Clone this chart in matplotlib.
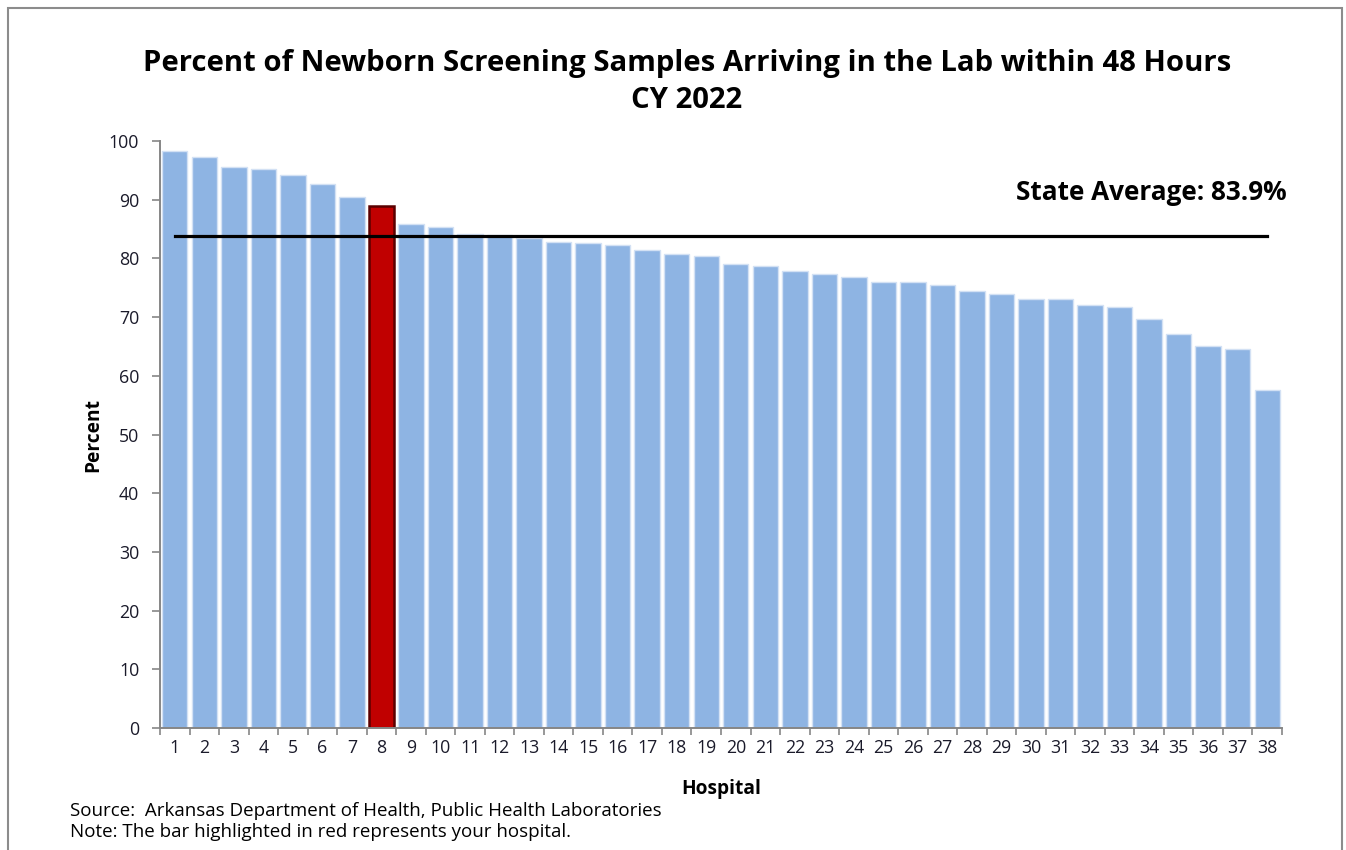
"""Newborn screening samples arriving within 48 hours, CY 2022."""
import matplotlib

matplotlib.use("Agg")
import matplotlib.pyplot as plt
from matplotlib.patches import Rectangle

hospitals = list(range(1, 39))
percent = [
    98.3, 97.2, 95.5, 95.3, 94.2, 92.7, 90.5, 89.0, 85.8, 85.3,
    84.1, 84.0, 83.5, 82.8, 82.7, 82.2, 81.5, 80.7, 80.4, 79.0,
    78.7, 77.9, 77.4, 76.9, 76.0, 75.9, 75.4, 74.5, 73.9, 73.1,
    73.0, 72.0, 71.7, 69.6, 67.2, 65.0, 64.5, 57.5,
]
your_hospital = 8
state_avg = 83.9
yticks = list(range(0, 101, 10))

plt.rcParams["font.family"] = ["Open Sans", "DejaVu Sans"]

fig = plt.figure(figsize=(13.46, 8.5), dpi=100)
ax = fig.add_axes([160 / 1346, 1 - 728 / 850, 1122 / 1346, 587 / 850])

colors = ["#C00000" if h == your_hospital else "#8EB4E3" for h in hospitals]
edges = ["#5A0000" if h == your_hospital else "#D3E1F4" for h in hospitals]
lws = [1.8 if h == your_hospital else 1.0 for h in hospitals]
ax.bar(hospitals, percent, width=0.86, color=colors, edgecolor=edges, linewidth=lws, zorder=2)

# state average line across the bar centres
ax.plot([hospitals[0], hospitals[-1]], [state_avg, state_avg], color="black", lw=2.3, zorder=3)
ax.text(38.65, 89.0, f"State Average: {state_avg}%", ha="right", va="bottom",
        fontsize=18.8, fontweight="bold", color="black")

ax.set_xlim(0.5, 38.5)
ax.set_ylim(0, 100)
ax.set_yticks(yticks)
ax.set_yticklabels([str(v) for v in yticks])
ax.set_xticks([h - 0.5 for h in hospitals] + [38.5])
ax.set_xticklabels([])
ax.set_xticks(hospitals, minor=True)
ax.set_xticklabels([str(h) for h in hospitals], minor=True)
ax.tick_params(axis="x", which="major", length=5, width=1.2, color="#868686", direction="out")
ax.tick_params(axis="x", which="minor", length=0, pad=8, labelsize=12.8, labelcolor="#1A1A2A")
ax.tick_params(axis="y", length=6, width=1.2, color="#868686", direction="out",
               pad=9, labelsize=12.8, labelcolor="#1A1A2A")

for side in ("top", "right"):
    ax.spines[side].set_visible(False)
for side in ("left", "bottom"):
    ax.spines[side].set_color("#868686")
    ax.spines[side].set_linewidth(1.4)

ax.set_ylabel("Percent", fontsize=13.8, fontweight="bold", labelpad=4)
ax.set_xlabel("Hospital", fontsize=13.8, fontweight="bold", labelpad=16)

fig.text(687 / 1346, 1 - 64 / 850, "Percent of Newborn Screening Samples Arriving in the Lab within 48 Hours",
         ha="center", va="center", fontsize=21.1, fontweight="bold")
fig.text(687 / 1346, 1 - 101 / 850, "CY 2022", ha="center", va="center", fontsize=21.1, fontweight="bold")

fig.text(70 / 1346, 1 - 811 / 850, "Source:  Arkansas Department of Health, Public Health Laboratories",
         ha="left", va="center", fontsize=13.5)
fig.text(70 / 1346, 1 - 832 / 850, "Note: The bar highlighted in red represents your hospital.",
         ha="left", va="center", fontsize=13.5)

# outer frame, open at the bottom
fig.patches.append(Rectangle((8 / 1346, -0.05), 1334 / 1346, 1.05 - 8 / 850, transform=fig.transFigure,
                             fill=False, edgecolor="#8C8C8C", linewidth=1.5))

fig.savefig("out.png", dpi=100)
